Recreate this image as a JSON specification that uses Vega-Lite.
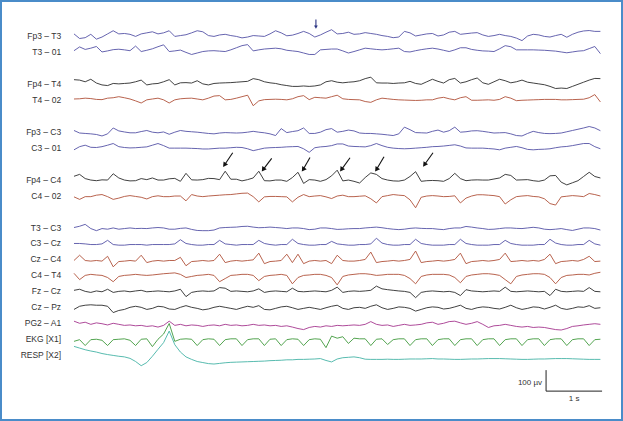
{
  "$schema": "https://vega.github.io/schema/vega-lite/v6.json",
  "width": 623,
  "height": 421,
  "autosize": {"type": "none"},
  "padding": 0,
  "background": "white",
  "config": {"view": {"stroke": "#4a8cc9", "strokeWidth": 4}, "font": "Liberation Sans"},
  "datasets": {
    "eeg": [
      {"t":0,"a":10,"b":6,"c":20,"d":4,"e":6,"f":-10,"g":16,"h":-6,"i":0,"j":0,"k":-5,"l":10,"m":5,"n":-10,"o":10,"p":-10,"q":42},
      {"t":0.1,"a":-12,"b":24,"c":18,"d":5,"e":-6,"f":5,"g":25,"h":-18,"i":6,"j":0,"k":20,"l":-20,"m":10,"n":5,"o":0,"p":-2,"q":34},
      {"t":0.2,"a":-8,"b":12,"c":10,"d":8,"e":-8,"f":12,"g":5,"h":-5,"i":15,"j":-2,"k":-5,"l":0,"m":0,"n":10,"o":5,"p":-30,"q":26},
      {"t":0.3,"a":8,"b":18,"c":22,"d":6,"e":-10,"f":2,"g":-2,"h":-5,"i":-5,"j":-5,"k":-8,"l":5,"m":-5,"n":12,"o":-5,"p":-2,"q":20},
      {"t":0.4,"a":-15,"b":26,"c":4,"d":2,"e":-13,"f":1,"g":-5,"h":2,"i":-15,"j":-5,"k":-5,"l":2,"m":2,"n":10,"o":2,"p":0,"q":15},
      {"t":0.5,"a":-5,"b":0,"c":-5,"d":1,"e":-20,"f":5,"g":-1,"h":5,"i":-5,"j":-2,"k":-8,"l":0,"m":-2,"n":10,"o":-2,"p":-5,"q":8},
      {"t":0.6,"a":10,"b":5,"c":-8,"d":8,"e":-10,"f":12,"g":-2,"h":-5,"i":-8,"j":15,"k":15,"l":-10,"m":10,"n":5,"o":-8,"p":-30,"q":3},
      {"t":0.7,"a":25,"b":11,"c":2,"d":10,"e":18,"f":20,"g":28,"h":-18,"i":-2,"j":-5,"k":-35,"l":-30,"m":-5,"n":-25,"o":0,"p":-2,"q":-1},
      {"t":0.8,"a":10,"b":13,"c":0,"d":15,"e":4,"f":5,"g":8,"h":-12,"i":-8,"j":-8,"k":-10,"l":-5,"m":0,"n":-15,"o":-5,"p":0,"q":-5},
      {"t":0.9,"a":12,"b":10,"c":2,"d":10,"e":-1,"f":1,"g":-2,"h":-4,"i":-5,"j":-8,"k":-8,"l":0,"m":2,"n":-10,"o":-10,"p":2,"q":-8},
      {"t":1.0,"a":8,"b":6,"c":4,"d":4,"e":-5,"f":-1,"g":-6,"h":0,"i":-2,"j":-5,"k":-5,"l":2,"m":-2,"n":0,"o":-8,"p":-5,"q":-15},
      {"t":1.1,"a":-2,"b":28,"c":10,"d":-5,"e":-5,"f":0,"g":-5,"h":-4,"i":-5,"j":-5,"k":-8,"l":5,"m":2,"n":5,"o":-12,"p":-30,"q":-30},
      {"t":1.2,"a":10,"b":2,"c":18,"d":-15,"e":1,"f":2,"g":5,"h":-8,"i":-4,"j":-5,"k":20,"l":2,"m":5,"n":0,"o":-10,"p":0,"q":-50},
      {"t":1.3,"a":15,"b":8,"c":-5,"d":0,"e":6,"f":4,"g":0,"h":-16,"i":-5,"j":-8,"k":-15,"l":0,"m":-2,"n":-10,"o":-15,"p":2,"q":-35},
      {"t":1.4,"a":20,"b":15,"c":0,"d":4,"e":-2,"f":12,"g":8,"h":-5,"i":-2,"j":-5,"k":-8,"l":2,"m":0,"n":-5,"o":-12,"p":-35,"q":-5},
      {"t":1.5,"a":10,"b":25,"c":2,"d":8,"e":-5,"f":20,"g":-2,"h":-1,"i":0,"j":-5,"k":-5,"l":5,"m":2,"n":5,"o":-18,"p":0,"q":28},
      {"t":1.6,"a":15,"b":34,"c":10,"d":0,"e":-1,"f":10,"g":-2,"h":-5,"i":-2,"j":-5,"k":-8,"l":8,"m":0,"n":2,"o":-10,"p":25,"q":60},
      {"t":1.7,"a":25,"b":2,"c":20,"d":-15,"e":-12,"f":-2,"g":4,"h":-5,"i":-8,"j":-5,"k":-5,"l":10,"m":-2,"n":-8,"o":10,"p":75,"q":115},
      {"t":1.8,"a":-2,"b":5,"c":-5,"d":0,"e":-2,"f":-2,"g":6,"h":-2,"i":-8,"j":-2,"k":-5,"l":12,"m":2,"n":-10,"o":-10,"p":-10,"q":50},
      {"t":1.9,"a":2,"b":9,"c":5,"d":5,"e":6,"f":-2,"g":-8,"h":-2,"i":-4,"j":18,"k":10,"l":5,"m":10,"n":0,"o":-5,"p":0,"q":15},
      {"t":2.0,"a":6,"b":-2,"c":6,"d":7,"e":2,"f":-2,"g":30,"h":-25,"i":-2,"j":0,"k":-30,"l":-10,"m":-25,"n":8,"o":-12,"p":2,"q":-8},
      {"t":2.1,"a":15,"b":-12,"c":4,"d":8,"e":0,"f":-3,"g":-1,"h":5,"i":-9,"j":-5,"k":-10,"l":-5,"m":-5,"n":0,"o":-8,"p":0,"q":-20},
      {"t":2.2,"a":25,"b":-5,"c":15,"d":4,"e":-2,"f":-4,"g":-2,"h":-2,"i":-14,"j":-8,"k":-8,"l":0,"m":0,"n":-5,"o":-10,"p":-30,"q":-30},
      {"t":2.3,"a":20,"b":2,"c":0,"d":0,"e":-5,"f":-6,"g":0,"h":-5,"i":-15,"j":-8,"k":-5,"l":2,"m":2,"n":-12,"o":-15,"p":-2,"q":-35},
      {"t":2.4,"a":2,"b":5,"c":-5,"d":8,"e":-8,"f":-6,"g":6,"h":-2,"i":-15,"j":-5,"k":-8,"l":5,"m":0,"n":-8,"o":-10,"p":2,"q":-40},
      {"t":2.5,"a":-2,"b":6,"c":2,"d":18,"e":-10,"f":-4,"g":5,"h":0,"i":-12,"j":-5,"k":-5,"l":0,"m":2,"n":0,"o":-8,"p":0,"q":-42},
      {"t":2.6,"a":5,"b":4,"c":4,"d":20,"e":-6,"f":-2,"g":0,"h":2,"i":-2,"j":15,"k":25,"l":-30,"m":18,"n":5,"o":-12,"p":-30,"q":-39},
      {"t":2.7,"a":8,"b":2,"c":5,"d":0,"e":-4,"f":-2,"g":40,"h":4,"i":0,"j":-2,"k":-15,"l":-15,"m":15,"n":0,"o":-5,"p":-2,"q":-36},
      {"t":2.8,"a":2,"b":10,"c":6,"d":2,"e":-5,"f":0,"g":2,"h":5,"i":1,"j":-5,"k":-8,"l":0,"m":0,"n":-5,"o":-10,"p":2,"q":-34},
      {"t":2.9,"a":-2,"b":20,"c":8,"d":8,"e":-6,"f":2,"g":2,"h":8,"i":2,"j":-8,"k":-5,"l":2,"m":2,"n":-10,"o":-8,"p":2,"q":-33},
      {"t":3.0,"a":-9,"b":30,"c":10,"d":15,"e":-5,"f":1,"g":-6,"h":11,"i":5,"j":-5,"k":-8,"l":5,"m":0,"n":-2,"o":-12,"p":-30,"q":-32},
      {"t":3.1,"a":-5,"b":35,"c":12,"d":22,"e":-2,"f":-5,"g":0,"h":12,"i":6,"j":-5,"k":-5,"l":5,"m":-2,"n":5,"o":-10,"p":-2,"q":-31},
      {"t":3.2,"a":2,"b":5,"c":25,"d":-28,"e":2,"f":-14,"g":8,"h":-5,"i":2,"j":-5,"k":-2,"l":0,"m":2,"n":0,"o":-5,"p":2,"q":-30},
      {"t":3.3,"a":0,"b":10,"c":20,"d":-5,"e":-2,"f":-8,"g":40,"h":-30,"i":-1,"j":15,"k":30,"l":-25,"m":12,"n":8,"o":-10,"p":2,"q":-29},
      {"t":3.4,"a":-2,"b":14,"c":10,"d":1,"e":-5,"f":-2,"g":-5,"h":-6,"i":0,"j":0,"k":-20,"l":-5,"m":-5,"n":-10,"o":-8,"p":-30,"q":-28},
      {"t":3.5,"a":10,"b":16,"c":5,"d":2,"e":-10,"f":0,"g":-6,"h":-4,"i":2,"j":-5,"k":-10,"l":0,"m":0,"n":-12,"o":-12,"p":0,"q":-26},
      {"t":3.6,"a":25,"b":18,"c":2,"d":3,"e":-18,"f":1,"g":-2,"h":-4,"i":0,"j":-8,"k":-8,"l":2,"m":2,"n":-5,"o":-10,"p":2,"q":-25},
      {"t":3.7,"a":15,"b":15,"c":-4,"d":2,"e":15,"f":2,"g":-2,"h":-5,"i":-2,"j":-5,"k":-5,"l":5,"m":0,"n":2,"o":-15,"p":-30,"q":-24},
      {"t":3.8,"a":1,"b":8,"c":-8,"d":0,"e":-4,"f":4,"g":-8,"h":-6,"i":-5,"j":-5,"k":25,"l":0,"m":-2,"n":5,"o":-12,"p":-2,"q":-22},
      {"t":3.9,"a":4,"b":5,"c":-12,"d":5,"e":1,"f":5,"g":10,"h":-30,"i":-2,"j":20,"k":-15,"l":-40,"m":15,"n":-2,"o":-18,"p":2,"q":-22},
      {"t":4.0,"a":12,"b":2,"c":-12,"d":15,"e":5,"f":6,"g":35,"h":-8,"i":-2,"j":0,"k":25,"l":-10,"m":0,"n":-10,"o":-25,"p":0,"q":-20},
      {"t":4.1,"a":22,"b":-5,"c":-10,"d":20,"e":18,"f":-5,"g":-18,"h":5,"i":-5,"j":-5,"k":-20,"l":0,"m":-2,"n":-5,"o":-30,"p":-30,"q":-20},
      {"t":4.2,"a":12,"b":-12,"c":-12,"d":1,"e":-8,"f":-22,"g":0,"h":-5,"i":-10,"j":-8,"k":-8,"l":2,"m":0,"n":0,"o":-20,"p":-2,"q":-19},
      {"t":4.3,"a":-5,"b":-12,"c":-10,"d":12,"e":-8,"f":0,"g":-2,"h":-2,"i":-8,"j":-8,"k":-5,"l":5,"m":2,"n":-5,"o":-15,"p":2,"q":-18},
      {"t":4.4,"a":5,"b":10,"c":-5,"d":10,"e":-2,"f":4,"g":-8,"h":0,"i":-2,"j":-5,"k":-8,"l":5,"m":0,"n":-10,"o":-18,"p":0,"q":-16},
      {"t":4.5,"a":18,"b":12,"c":10,"d":8,"e":10,"f":6,"g":0,"h":-6,"i":-2,"j":-5,"k":-5,"l":0,"m":-2,"n":-2,"o":-12,"p":-40,"q":-25},
      {"t":4.6,"a":30,"b":14,"c":15,"d":15,"e":15,"f":10,"g":18,"h":-14,"i":-5,"j":10,"k":-20,"l":-10,"m":5,"n":5,"o":-15,"p":15,"q":-32},
      {"t":4.7,"a":10,"b":14,"c":8,"d":22,"e":-2,"f":18,"g":45,"h":-2,"i":-9,"j":-2,"k":20,"l":-45,"m":20,"n":10,"o":-10,"p":5,"q":-18},
      {"t":4.8,"a":12,"b":5,"c":5,"d":5,"e":2,"f":18,"g":-6,"h":2,"i":-8,"j":-5,"k":-5,"l":-5,"m":-5,"n":-5,"o":-12,"p":12,"q":-12},
      {"t":4.9,"a":18,"b":-5,"c":8,"d":2,"e":8,"f":8,"g":-2,"h":-5,"i":-6,"j":-8,"k":-8,"l":2,"m":0,"n":-10,"o":-10,"p":-20,"q":-10},
      {"t":5.0,"a":8,"b":2,"c":10,"d":1,"e":4,"f":6,"g":-8,"h":-5,"i":-5,"j":-8,"k":-8,"l":5,"m":2,"n":-2,"o":-8,"p":5,"q":-8},
      {"t":5.1,"a":10,"b":10,"c":15,"d":0,"e":-6,"f":5,"g":-16,"h":-3,"i":-5,"j":-5,"k":-5,"l":8,"m":0,"n":0,"o":-10,"p":2,"q":-12},
      {"t":5.2,"a":16,"b":18,"c":25,"d":-8,"e":-8,"f":4,"g":10,"h":-1,"i":-2,"j":-5,"k":0,"l":8,"m":2,"n":-5,"o":-5,"p":2,"q":-19},
      {"t":5.3,"a":12,"b":15,"c":32,"d":-12,"e":-8,"f":10,"g":32,"h":-15,"i":0,"j":-2,"k":35,"l":5,"m":5,"n":5,"o":8,"p":-30,"q":-20},
      {"t":5.4,"a":8,"b":12,"c":5,"d":0,"e":-10,"f":20,"g":25,"h":-35,"i":2,"j":25,"k":-15,"l":0,"m":25,"n":12,"o":-5,"p":0,"q":-20},
      {"t":5.5,"a":2,"b":10,"c":4,"d":8,"e":-12,"f":10,"g":5,"h":-5,"i":-1,"j":2,"k":-10,"l":2,"m":12,"n":-2,"o":-10,"p":2,"q":-20},
      {"t":5.6,"a":-2,"b":12,"c":4,"d":5,"e":-15,"f":2,"g":-2,"h":0,"i":-5,"j":-5,"k":-8,"l":5,"m":8,"n":-10,"o":-8,"p":-25,"q":-19},
      {"t":5.7,"a":-8,"b":15,"c":2,"d":2,"e":-18,"f":-2,"g":-6,"h":5,"i":-8,"j":-8,"k":-5,"l":5,"m":5,"n":-5,"o":-15,"p":-2,"q":-20},
      {"t":5.8,"a":-5,"b":18,"c":4,"d":0,"e":-10,"f":-4,"g":-7,"h":2,"i":-10,"j":-8,"k":-8,"l":5,"m":2,"n":2,"o":-10,"p":2,"q":-20},
      {"t":5.9,"a":22,"b":2,"c":5,"d":-1,"e":22,"f":-5,"g":-2,"h":0,"i":-8,"j":-5,"k":-5,"l":0,"m":0,"n":0,"o":-5,"p":2,"q":-19},
      {"t":6.0,"a":15,"b":0,"c":12,"d":-2,"e":10,"f":-4,"g":15,"h":-20,"i":-4,"j":-5,"k":0,"l":-15,"m":-5,"n":-5,"o":-10,"p":-30,"q":-18},
      {"t":6.1,"a":0,"b":6,"c":2,"d":-3,"e":-4,"f":-2,"g":38,"h":-58,"i":-2,"j":20,"k":40,"l":-40,"m":-30,"n":-18,"o":-8,"p":-2,"q":-18},
      {"t":6.2,"a":5,"b":11,"c":-2,"d":-2,"e":-5,"f":0,"g":-8,"h":-8,"i":-4,"j":0,"k":-15,"l":-5,"m":-5,"n":-10,"o":-5,"p":2,"q":-18},
      {"t":6.3,"a":10,"b":15,"c":10,"d":0,"e":-6,"f":2,"g":-5,"h":-2,"i":-5,"j":-5,"k":-10,"l":2,"m":0,"n":-2,"o":2,"p":2,"q":-17},
      {"t":6.4,"a":12,"b":18,"c":22,"d":0,"e":2,"f":5,"g":-4,"h":0,"i":-5,"j":-8,"k":-8,"l":5,"m":2,"n":2,"o":5,"p":-30,"q":-16},
      {"t":6.5,"a":0,"b":14,"c":12,"d":8,"e":8,"f":6,"g":-5,"h":-2,"i":-8,"j":-8,"k":-5,"l":5,"m":0,"n":0,"o":-5,"p":-2,"q":-18},
      {"t":6.6,"a":5,"b":8,"c":4,"d":12,"e":-2,"f":8,"g":-8,"h":-5,"i":-10,"j":-8,"k":-8,"l":5,"m":-2,"n":-8,"o":0,"p":2,"q":-18},
      {"t":6.7,"a":18,"b":2,"c":20,"d":5,"e":5,"f":11,"g":5,"h":-4,"i":-5,"j":-5,"k":-5,"l":2,"m":0,"n":-5,"o":8,"p":2,"q":-19},
      {"t":6.8,"a":22,"b":10,"c":26,"d":0,"e":22,"f":14,"g":30,"h":-1,"i":-2,"j":-5,"k":0,"l":-10,"m":-5,"n":2,"o":10,"p":-30,"q":-20},
      {"t":6.9,"a":8,"b":20,"c":4,"d":10,"e":-2,"f":8,"g":5,"h":-35,"i":-2,"j":20,"k":30,"l":-35,"m":-20,"n":10,"o":2,"p":-2,"q":-20},
      {"t":7.0,"a":11,"b":20,"c":10,"d":15,"e":0,"f":-1,"g":-5,"h":-12,"i":5,"j":0,"k":-20,"l":-5,"m":8,"n":-5,"o":-5,"p":2,"q":-19},
      {"t":7.1,"a":14,"b":12,"c":20,"d":-2,"e":4,"f":-2,"g":-2,"h":-2,"i":2,"j":-5,"k":-10,"l":2,"m":2,"n":-10,"o":0,"p":2,"q":-18},
      {"t":7.2,"a":16,"b":8,"c":28,"d":-2,"e":5,"f":-2,"g":-1,"h":4,"i":-2,"j":-8,"k":-8,"l":5,"m":0,"n":-2,"o":8,"p":-30,"q":-18},
      {"t":7.3,"a":5,"b":5,"c":5,"d":-1,"e":2,"f":-2,"g":-2,"h":4,"i":-5,"j":-8,"k":-5,"l":8,"m":-2,"n":2,"o":-5,"p":-2,"q":-17},
      {"t":7.4,"a":-2,"b":4,"c":-2,"d":0,"e":-2,"f":-4,"g":-2,"h":2,"i":-9,"j":-8,"k":-8,"l":8,"m":0,"n":0,"o":-20,"p":2,"q":-16},
      {"t":7.5,"a":2,"b":2,"c":10,"d":-2,"e":-6,"f":-6,"g":3,"h":0,"i":-8,"j":-5,"k":-5,"l":5,"m":2,"n":-5,"o":-12,"p":2,"q":-16},
      {"t":7.6,"a":8,"b":15,"c":22,"d":2,"e":-5,"f":-10,"g":8,"h":-5,"i":-5,"j":-5,"k":0,"l":0,"m":0,"n":-8,"o":-10,"p":-30,"q":-16},
      {"t":7.7,"a":2,"b":30,"c":15,"d":15,"e":-4,"f":-2,"g":25,"h":-40,"i":-2,"j":15,"k":30,"l":-20,"m":20,"n":0,"o":-5,"p":-2,"q":-17},
      {"t":7.8,"a":-2,"b":25,"c":5,"d":8,"e":-10,"f":2,"g":20,"h":-20,"i":-2,"j":0,"k":-10,"l":-40,"m":0,"n":10,"o":-10,"p":2,"q":-18},
      {"t":7.9,"a":-10,"b":10,"c":10,"d":-4,"e":-18,"f":6,"g":-2,"h":-5,"i":-4,"j":-5,"k":-8,"l":-5,"m":-2,"n":-2,"o":-15,"p":2,"q":-19},
      {"t":8.0,"a":-22,"b":10,"c":18,"d":-2,"e":-20,"f":0,"g":-1,"h":-2,"i":-5,"j":-8,"k":-5,"l":2,"m":0,"n":-10,"o":-18,"p":-30,"q":-20},
      {"t":8.1,"a":0,"b":10,"c":8,"d":-1,"e":-8,"f":-8,"g":0,"h":0,"i":-2,"j":-8,"k":-8,"l":5,"m":2,"n":-5,"o":-15,"p":-2,"q":-20},
      {"t":8.2,"a":8,"b":10,"c":4,"d":0,"e":2,"f":-10,"g":-5,"h":-4,"i":1,"j":-8,"k":-5,"l":8,"m":0,"n":2,"o":-20,"p":2,"q":-19},
      {"t":8.3,"a":5,"b":9,"c":0,"d":1,"e":-4,"f":-8,"g":-8,"h":-6,"i":-2,"j":-5,"k":-8,"l":8,"m":-2,"n":0,"o":-18,"p":2,"q":-18},
      {"t":8.4,"a":-2,"b":8,"c":-4,"d":2,"e":-8,"f":-7,"g":-2,"h":-15,"i":-8,"j":-5,"k":0,"l":5,"m":0,"n":-8,"o":-20,"p":-30,"q":-18},
      {"t":8.5,"a":-5,"b":6,"c":-12,"d":2,"e":-9,"f":-5,"g":18,"h":-38,"i":-10,"j":20,"k":25,"l":-10,"m":-20,"n":0,"o":-25,"p":-2,"q":-17},
      {"t":8.6,"a":2,"b":4,"c":-22,"d":2,"e":-8,"f":0,"g":20,"h":-45,"i":-8,"j":2,"k":-20,"l":-40,"m":10,"n":10,"o":-30,"p":2,"q":-16},
      {"t":8.7,"a":8,"b":0,"c":-20,"d":0,"e":-6,"f":4,"g":-12,"h":-6,"i":-5,"j":-5,"k":-10,"l":-10,"m":0,"n":-5,"o":-32,"p":2,"q":-16},
      {"t":8.8,"a":-6,"b":-4,"c":-22,"d":0,"e":0,"f":6,"g":-25,"h":-3,"i":-10,"j":-8,"k":-8,"l":0,"m":-2,"n":-10,"o":-25,"p":-30,"q":-16},
      {"t":8.9,"a":8,"b":0,"c":-12,"d":1,"e":6,"f":10,"g":-15,"h":0,"i":-14,"j":-8,"k":-5,"l":2,"m":0,"n":-5,"o":-15,"p":-2,"q":-17},
      {"t":9.0,"a":18,"b":4,"c":-2,"d":2,"e":12,"f":15,"g":-5,"h":-2,"i":-8,"j":-5,"k":-8,"l":5,"m":2,"n":2,"o":-12,"p":2,"q":-18},
      {"t":9.1,"a":24,"b":6,"c":8,"d":3,"e":18,"f":20,"g":15,"h":-5,"i":-2,"j":-5,"k":0,"l":5,"m":0,"n":0,"o":-8,"p":2,"q":-19},
      {"t":9.2,"a":26,"b":16,"c":18,"d":10,"e":25,"f":20,"g":35,"h":10,"i":-2,"j":15,"k":15,"l":2,"m":18,"n":8,"o":-5,"p":-30,"q":-20},
      {"t":9.3,"a":22,"b":26,"c":26,"d":25,"e":18,"f":5,"g":15,"h":5,"i":-5,"j":-2,"k":-10,"l":10,"m":0,"n":-5,"o":-2,"p":-2,"q":-20},
      {"t":9.4,"a":22,"b":-8,"c":25,"d":-10,"e":5,"f":-5,"g":8,"h":-2,"i":-12,"j":-8,"k":-8,"l":15,"m":-2,"n":-2,"o":-5,"p":0,"q":-20}
    ],
    "montage": [
      {"k":"a","label":"Fp3 – T3","v":0},{"k":"b","label":"T3 – 01","v":0},
      {"k":"c","label":"Fp4 – T4","v":0},{"k":"d","label":"T4 – 02","v":0},
      {"k":"e","label":"Fp3 – C3","v":0},{"k":"f","label":"C3 – 01","v":0},
      {"k":"g","label":"Fp4 – C4","v":0},{"k":"h","label":"C4 – 02","v":0},
      {"k":"i","label":"T3 – C3","v":0},{"k":"j","label":"C3 – Cz","v":0},
      {"k":"k","label":"Cz – C4","v":0},{"k":"l","label":"C4 – T4","v":0},
      {"k":"m","label":"Fz – Cz","v":0},{"k":"n","label":"Cz – Pz","v":0},
      {"k":"o","label":"PG2 – A1","v":0},{"k":"p","label":"EKG [X1]","v":0},
      {"k":"q","label":"RESP [X2]","v":0}
    ],
    "spikeArrows": [
      {"n":1,"k":"g","t":2.834,"v":128},{"n":1,"k":"g","t":2.687,"v":70},
      {"n":2,"k":"g","t":3.530,"v":101},{"n":2,"k":"g","t":3.378,"v":48},
      {"n":3,"k":"g","t":4.214,"v":105},{"n":3,"k":"g","t":4.092,"v":48},
      {"n":4,"k":"g","t":4.929,"v":104},{"n":4,"k":"g","t":4.776,"v":48},
      {"n":5,"k":"g","t":5.536,"v":109},{"n":5,"k":"g","t":5.401,"v":48},
      {"n":6,"k":"g","t":6.411,"v":128},{"n":6,"k":"g","t":6.258,"v":71},
      {"n":7,"k":"a","t":4.32,"v":78},{"n":7,"k":"a","t":4.32,"v":46}
    ],
    "spikeHeads": [
      {"k":"g","t":2.687,"v":70},{"k":"g","t":3.378,"v":48},
      {"k":"g","t":4.092,"v":48},{"k":"g","t":4.776,"v":48},
      {"k":"g","t":5.401,"v":48},{"k":"g","t":6.258,"v":71}
    ],
    "scaleBar": [
      {"o":1,"k":"bar","t":8.43,"v":81},
      {"o":2,"k":"bar","t":8.43,"v":-19},
      {"o":3,"k":"bar","t":9.43,"v":-19}
    ]
  },
  "layer": [
    {
      "data": {"name": "eeg"},
      "transform": [
        {"fold": ["a","b","c","d","e","f","g","h","i","j","k","l","m","n","o","p","q"], "as": ["k","v"]},
        {"calculate": "datum.v - 76 * indexof(['a','b','s1','c','d','s2','e','f','s3','g','h','s4','i','j','k','l','m','n','o','p','q','s5','bar'], datum.k)", "as": "pos"}
      ],
      "mark": {"type": "line", "strokeWidth": 0.9},
      "encoding": {
        "x": {"field": "t", "type": "quantitative", "axis": null, "scale": {"domain": [-1.3214, 9.8036], "nice": false, "zero": false}},
        "y": {"field": "pos", "type": "quantitative", "axis": null, "scale": {"domain": [-1833.3, 171.4], "nice": false, "zero": false}},
        "color": {"field": "k", "type": "nominal", "legend": null,
                  "scale": {"domain": ["a","b","c","d","e","f","g","h","i","j","k","l","m","n","o","p","q"],
                            "range": ["#5552a6","#5552a6","#2b2b2b","#b0513a","#5552a6","#5552a6","#2b2b2b","#b0513a","#5552a6","#5552a6","#b0513a","#b0513a","#2b2b2b","#2b2b2b","#a5378f","#3f9a3c","#45b3a6"]}}
      }
    },
    {
      "data": {"name": "montage"},
      "transform": [
        {"calculate": "datum.v - 76 * indexof(['a','b','s1','c','d','s2','e','f','s3','g','h','s4','i','j','k','l','m','n','o','p','q','s5','bar'], datum.k)", "as": "pos"}
      ],
      "mark": {"type": "text", "align": "right", "baseline": "middle", "fontSize": 8.5, "color": "#333333"},
      "encoding": {
        "x": {"datum": -0.23, "type": "quantitative"},
        "y": {"field": "pos", "type": "quantitative"},
        "text": {"field": "label"}
      }
    },
    {
      "data": {"name": "spikeArrows"},
      "transform": [
        {"calculate": "datum.v - 76 * indexof(['a','b','s1','c','d','s2','e','f','s3','g','h','s4','i','j','k','l','m','n','o','p','q','s5','bar'], datum.k)", "as": "pos"}
      ],
      "mark": {"type": "line", "strokeWidth": 1.1},
      "encoding": {
        "x": {"field": "t", "type": "quantitative"},
        "y": {"field": "pos", "type": "quantitative"},
        "detail": {"field": "n"},
        "color": {"condition": {"test": "datum.n == 7", "value": "#2b3483"}, "value": "#111111"}
      }
    },
    {
      "data": {"name": "spikeHeads"},
      "transform": [
        {"calculate": "datum.v - 76 * indexof(['a','b','s1','c','d','s2','e','f','s3','g','h','s4','i','j','k','l','m','n','o','p','q','s5','bar'], datum.k)", "as": "pos"}
      ],
      "mark": {"type": "point", "shape": "triangle-up", "angle": 215, "filled": true, "size": 30, "opacity": 1, "color": "#111111"},
      "encoding": {
        "x": {"field": "t", "type": "quantitative"},
        "y": {"field": "pos", "type": "quantitative"}
      }
    },
    {
      "data": {"values": [{"k":"a","t":4.32,"v":42}]},
      "transform": [
        {"calculate": "datum.v - 76 * indexof(['a','b','s1','c','d','s2','e','f','s3','g','h','s4','i','j','k','l','m','n','o','p','q','s5','bar'], datum.k)", "as": "pos"}
      ],
      "mark": {"type": "point", "shape": "triangle-down", "filled": true, "size": 14, "opacity": 1, "color": "#2b3483"},
      "encoding": {
        "x": {"field": "t", "type": "quantitative"},
        "y": {"field": "pos", "type": "quantitative"}
      }
    },
    {
      "data": {"name": "scaleBar"},
      "transform": [
        {"calculate": "datum.v - 76 * indexof(['a','b','s1','c','d','s2','e','f','s3','g','h','s4','i','j','k','l','m','n','o','p','q','s5','bar'], datum.k)", "as": "pos"}
      ],
      "mark": {"type": "line", "strokeWidth": 1, "color": "#222222"},
      "encoding": {
        "x": {"field": "t", "type": "quantitative"},
        "y": {"field": "pos", "type": "quantitative"},
        "order": {"field": "o"}
      }
    },
    {
      "data": {"values": [{"k":"bar","t":8.43,"v":19,"txt":"100 µv"}]},
      "transform": [
        {"calculate": "datum.v - 76 * indexof(['a','b','s1','c','d','s2','e','f','s3','g','h','s4','i','j','k','l','m','n','o','p','q','s5','bar'], datum.k)", "as": "pos"}
      ],
      "mark": {"type": "text", "align": "right", "baseline": "middle", "dx": -4, "fontSize": 8, "color": "#333333"},
      "encoding": {
        "x": {"field": "t", "type": "quantitative"},
        "y": {"field": "pos", "type": "quantitative"},
        "text": {"field": "txt"}
      }
    },
    {
      "data": {"values": [{"k":"bar","t":8.93,"v":-19,"txt":"1 s"}]},
      "transform": [
        {"calculate": "datum.v - 76 * indexof(['a','b','s1','c','d','s2','e','f','s3','g','h','s4','i','j','k','l','m','n','o','p','q','s5','bar'], datum.k)", "as": "pos"}
      ],
      "mark": {"type": "text", "align": "center", "baseline": "middle", "dy": 8, "fontSize": 8, "color": "#333333"},
      "encoding": {
        "x": {"field": "t", "type": "quantitative"},
        "y": {"field": "pos", "type": "quantitative"},
        "text": {"field": "txt"}
      }
    }
  ]
}
